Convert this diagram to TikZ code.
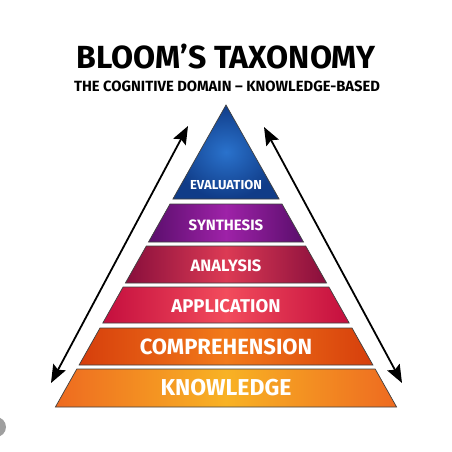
\documentclass[tikz,border=0pt]{standalone}
\usepackage{fontspec}
\setmainfont{Fira Sans}
\usepackage{xcolor}
\usepackage{tikz}
\usetikzlibrary{arrows.meta}

\definecolor{evalout}{HTML}{103C88}
\definecolor{evalin}{HTML}{2A72CC}
\definecolor{synout}{HTML}{5A0E6C}
\definecolor{synin}{HTML}{9E22A8}
\definecolor{anaout}{HTML}{880E3C}
\definecolor{anain}{HTML}{DC3A54}
\definecolor{appout}{HTML}{C40E3E}
\definecolor{appin}{HTML}{F24C5C}
\definecolor{comout}{HTML}{D63E0C}
\definecolor{comin}{HTML}{F27A1A}
\definecolor{knoout}{HTML}{EE6A20}
\definecolor{knoin}{HTML}{F8B224}

\begin{document}
\begin{tikzpicture}[x=1pt,y=-1pt,
                    band/.style n args={2}{draw=black!75,line width=0.7pt,
                    left color=#1,right color=#1,middle color=#2},
                    lbl/.style={text=white,font=\bfseries,inner sep=0pt},
                    updown/.style={line width=1.8pt,
                    {Stealth[length=18pt,width=14pt,inset=3pt]}-{Stealth[length=18pt,width=14pt,inset=3pt]}}]
    \useasboundingbox[fill=white] (0,0) rectangle (452,452);
    \fill[gray!75] (-4,427) circle (10);

    \node[font=\bfseries\fontsize{32}{32}\selectfont,inner sep=0pt](title) at (226,57) {BLOOM'S TAXONOMY};
    \node[font=\bfseries\fontsize{14.8}{15}\selectfont,inner sep=0pt](subtitle) at (227,86) {THE COGNITIVE DOMAIN -- KNOWLEDGE-BASED};

    % pyramid layers, half width = 0.565*(y-105)
    \shade[inner color=evalin,outer color=evalout,draw=black!75,line width=0.7pt]
        (226,105) -- (279.1,199) -- (172.9,199) -- cycle;
    \path[band={synout}{synin}]  (170.0,204) -- (282.0,204) -- (303.5,242) -- (148.5,242) -- cycle;
    \path[band={anaout}{anain}]  (146.3,246) -- (305.7,246) -- (326.6,283) -- (125.4,283) -- cycle;
    \path[band={appout}{appin}]  (123.1,287) -- (328.9,287) -- (349.2,323) -- (102.8,323) -- cycle;
    \path[band={comout}{comin}]  (100.0,328) -- (352.0,328) -- (372.9,365) -- (79.1,365) -- cycle;
    \path[band={knoout}{knoin}]  (76.8,369) -- (375.2,369) -- (396.6,407) -- (55.4,407) -- cycle;

    \node[lbl,font=\bfseries\fontsize{13}{13}\selectfont](evaluation) at (226,185) {EVALUATION};
    \node[lbl,font=\bfseries\fontsize{15}{15}\selectfont](synthesis) at (226,225) {SYNTHESIS};
    \node[lbl,font=\bfseries\fontsize{16.5}{17}\selectfont](analysis) at (226,266) {ANALYSIS};
    \node[lbl,font=\bfseries\fontsize{18.5}{19}\selectfont](application) at (226,306) {APPLICATION};
    \node[lbl,font=\bfseries\fontsize{22}{22}\selectfont](comprehension) at (226,347) {COMPREHENSION};
    \node[lbl,font=\bfseries\fontsize{23}{23}\selectfont](knowledge) at (226,388) {KNOWLEDGE};

    % arrows beside the pyramid
    \coordinate (lbot) at (51,383);
    \coordinate (ltop) at (188,126);
    \coordinate (rtop) at (264,127);
    \coordinate (rbot) at (402,383);
    \draw[updown] (lbot) -- (ltop);
    \draw[updown] (rtop) -- (rbot);
\end{tikzpicture}
\end{document}
